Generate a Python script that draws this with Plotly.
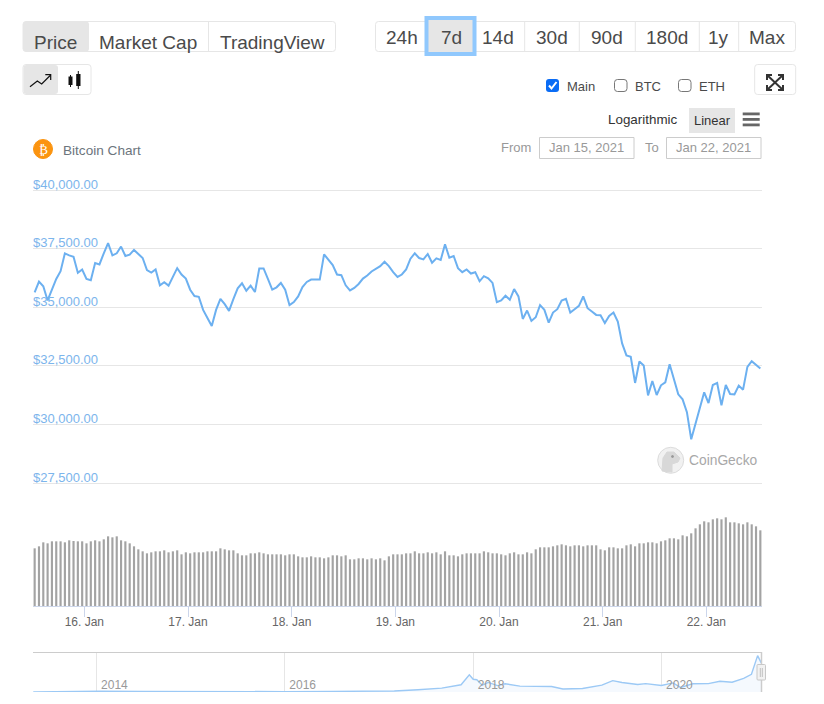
import pandas as pd
import plotly.graph_objects as go

W, H = 824, 704

# hourly price
prices = [
    35632, 36092, 35891, 35287, 35747, 36207, 36538, 37299, 37213, 37155,
    36466, 36609, 36207, 36150, 36882, 36825, 37299, 37730, 37213, 37299,
    37587, 37184, 37242, 37443, 37270, 37098, 36581, 36480, 36609, 35934,
    36063, 35920, 36293, 36667, 36394, 36221, 35747, 35474, 35445, 34885,
    34540, 34195, 34885, 35359, 35129, 34842, 35345, 35805, 36020, 35704,
    35920, 35647, 36652, 36652, 36207, 35747, 35848, 36035, 35747, 35086,
    35216, 35460, 35862, 36078, 36178, 36178, 36178, 37256, 37012, 36796,
    36394, 36365, 35934, 35718, 35819, 35992, 36221, 36351, 36523, 36638,
    36753, 36940, 36753, 36494, 36293, 36394, 36609, 37069, 37299, 37098,
    37040, 37270, 36897, 37083, 37012, 37687, 37112, 37184, 36667, 36494,
    36609, 36437, 36494, 36106, 36322, 36236, 36035, 35216, 35287, 35488,
    35316, 35776, 35460,
    34500, 34857, 34414, 34571, 35086, 34886, 34342, 34771, 34914, 35286,
    35358, 34771, 34914, 35057, 35458, 34957, 34814, 34671, 34657, 34328,
    34628, 34771, 34385, 33456, 32941, 32884, 31768, 32683, 32512, 31239,
    31854, 31253, 31668, 31797, 32569, 31954, 31282, 31068, 30524, 29366,
    30024, 30667, 31368, 30910, 31682, 31768, 30810, 31682, 31296, 31282,
    31654, 31482, 32455, 32698, 32555, 32383,
]

# bar heights, no scale is shown for them
volumes = [
    173, 179, 191, 188, 194, 194, 194, 191, 197, 195,
    194, 194, 188, 194, 197, 194, 200, 209, 206, 209,
    197, 194, 188, 179, 170, 164, 158, 161, 164, 164,
    167, 161, 164, 167, 155, 161, 158, 161, 161, 161,
    164, 164, 164, 173, 170, 167, 167, 158, 152, 152,
    158, 158, 161, 158, 155, 155, 155, 155, 152, 155,
    155, 149, 146, 146, 149, 146, 146, 143, 146, 152,
    152, 149, 152, 140, 140, 143, 143, 140, 143, 140,
    143, 137, 149, 155, 155,
    155, 158, 158, 164, 158, 158, 161, 158, 161, 155,
    164, 152, 152, 149, 155, 158, 158, 158, 158, 164,
    161, 158, 158, 155, 152, 158, 161, 155, 155,
    161, 158, 170, 176, 176, 176, 179, 182, 185, 182,
    179, 182, 182, 179, 182, 182, 182, 170, 167,
    176, 176, 173, 173, 182, 185, 179, 188, 188, 191,
    191, 188, 194, 197, 203, 203, 200, 212, 209, 218,
    233, 245, 254, 251, 260, 263, 260, 266, 251, 251,
    248, 245, 251, 245, 239, 227,
]

price_ticks = [27500, 30000, 32500, 35000, 37500, 40000]
price_labels = ["$27,500.00", "$30,000.00", "$32,500.00", "$35,000.00", "$37,500.00", "$40,000.00"]
day_ticks = ["2021-01-16", "2021-01-17", "2021-01-18", "2021-01-19", "2021-01-20", "2021-01-21", "2021-01-22"]
day_labels = ["16. Jan", "17. Jan", "18. Jan", "19. Jan", "20. Jan", "21. Jan", "22. Jan"]

nav_dates = [
    "2013-05-01", "2013-11-30", "2014-01-15", "2014-07-01", "2015-01-15", "2015-07-01",
    "2016-01-01", "2016-07-01", "2017-01-01", "2017-03-01", "2017-06-01", "2017-09-01",
    "2017-11-15", "2017-12-17", "2018-01-01", "2018-01-15", "2018-02-05", "2018-03-01",
    "2018-04-05", "2018-05-05", "2018-07-01", "2018-11-01", "2018-12-15", "2019-03-01",
    "2019-05-15", "2019-06-26", "2019-08-01", "2019-10-01", "2019-11-01", "2020-01-01",
    "2020-02-15", "2020-03-15", "2020-05-01", "2020-07-01", "2020-08-15", "2020-10-01",
    "2020-11-15", "2020-12-15", "2021-01-08", "2021-01-22",
]
nav_prices = [
    120, 1100, 800, 620, 250, 280,
    430, 650, 950, 1100, 2500, 4300,
    8000, 19000, 14000, 13500, 7500, 10500,
    7000, 9000, 6500, 6000, 3300, 3900,
    7500, 12500, 10500, 8200, 9200, 7200,
    10000, 5000, 9000, 9200, 11800, 10800,
    15000, 19500, 40000, 32000,
]
nav_ticks = ["2014-01-01", "2016-01-01", "2018-01-01", "2020-01-01"]
nav_labels = ["2014", "2016", "2018", "2020"]

hours = pd.date_range("2021-01-15 12:30", periods=len(prices), freq="h")

BLUE = "#6cb0f0"
BORDER = "#e6e6e6"
ACTIVE = "#e6e6e6"
DARK = "#4a4a4a"


def fx(x):
    return x / W


def fy(y):
    return 1 - y / H


shapes = []
annotations = []


def text(x, y, s, size=13, color=DARK, anchor="center", font="Liberation Sans"):
    if anchor == "left":
        x -= 1  # annotations keep a 1px pad
    annotations.append(dict(
        x=fx(x), y=fy(y), xref="paper", yref="paper", text=s, showarrow=False,
        xanchor=anchor, yanchor="middle", borderpad=0,
        font=dict(size=size, color=color, family=font),
    ))


def box(x0, y0, x1, y1, fill=None, line=None, width=1):
    shapes.append(dict(
        type="rect", xref="paper", yref="paper",
        x0=fx(x0), y0=fy(y0), x1=fx(x1), y1=fy(y1),
        fillcolor=fill or "rgba(0,0,0,0)",
        line=dict(color=line or "rgba(0,0,0,0)", width=width if line else 0),
    ))


def rbox(x0, y0, x1, y1, r=3, fill=None, line=None, width=1):
    p = (
        f"M {fx(x0 + r)} {fy(y0)} L {fx(x1 - r)} {fy(y0)} Q {fx(x1)} {fy(y0)} {fx(x1)} {fy(y0 + r)} "
        f"L {fx(x1)} {fy(y1 - r)} Q {fx(x1)} {fy(y1)} {fx(x1 - r)} {fy(y1)} "
        f"L {fx(x0 + r)} {fy(y1)} Q {fx(x0)} {fy(y1)} {fx(x0)} {fy(y1 - r)} "
        f"L {fx(x0)} {fy(y0 + r)} Q {fx(x0)} {fy(y0)} {fx(x0 + r)} {fy(y0)} Z"
    )
    shapes.append(dict(
        type="path", xref="paper", yref="paper", path=p,
        fillcolor=fill or "rgba(0,0,0,0)",
        line=dict(color=line or "rgba(0,0,0,0)", width=width if line else 0),
    ))


def polyline(pts, color, width=1.5, fill=None, close=False):
    p = "M " + " L ".join(f"{fx(x)} {fy(y)}" for x, y in pts)
    if close:
        p += " Z"
    shapes.append(dict(
        type="path", xref="paper", yref="paper", path=p,
        fillcolor=fill or "rgba(0,0,0,0)",
        line=dict(color=color, width=width),
    ))


def circle(cx, cy, r, fill, line=None):
    shapes.append(dict(
        type="circle", xref="paper", yref="paper",
        x0=fx(cx - r), y0=fy(cy - r), x1=fx(cx + r), y1=fy(cy + r),
        fillcolor=fill, line=dict(color=line or fill, width=1),
    ))


# tabs
rbox(23, 21.5, 335.5, 51.5, fill="white", line=BORDER)
rbox(23, 21.5, 89, 51.5, fill=ACTIVE)
polyline([(208.5, 21.5), (208.5, 51.5)], BORDER, 1)
text(55.5, 42, "Price", 19)
text(148, 42, "Market Cap", 19)
text(272, 42, "TradingView", 19)

# range buttons
rbox(375.5, 21.5, 795.5, 51.5, fill="white", line=BORDER)
for x in [524.7, 579.3, 635.3, 699.3, 738.7]:
    polyline([(x, 21.5), (x, 51.5)], BORDER, 1)
box(426.5, 18, 474.5, 54, fill=ACTIVE, line="#90c8fd", width=4)
for x, s in [(402, "24h"), (451, "7d"), (497.5, "14d"), (552, "30d"), (607, "90d"),
             (667, "180d"), (718.7, "1y"), (767, "Max")]:
    text(x, 37, s, 19)

# line / candle toggle
rbox(23, 64.5, 91, 94.5, fill="white", line=BORDER)
rbox(23.5, 65, 58, 94, fill=ACTIVE)
polyline([(30, 86.7), (37.3, 81), (41.7, 84), (50.7, 75)], "#111", 1.2)
polyline([(45.3, 74.7), (50.7, 74.7), (50.7, 80)], "#111", 1.2)
box(68.5, 76.5, 72.5, 85, fill="#111")
polyline([(70.5, 75), (70.5, 87)], "#111", 1)
box(76.2, 74, 80.5, 86, fill="#111")
polyline([(78.3, 71), (78.3, 89)], "#111", 1)

# checkboxes
rbox(546, 79, 559, 92, fill="#0a6cf5")
polyline([(549, 85.5), (551.5, 88.5), (556.5, 82)], "white", 2)
rbox(614.5, 79.5, 627, 91.5, line="#777")
rbox(678.5, 79.5, 691, 91.5, line="#777")
text(567, 86, "Main", 13, anchor="left")
text(634.5, 86, "BTC", 13, anchor="left")
text(698.5, 86, "ETH", 13, anchor="left")

# fullscreen button
rbox(754.7, 64.5, 795.7, 94.5, fill="white", line=BORDER)
polyline([(767, 75), (783, 90)], "#333", 2)
polyline([(783, 75), (767, 90)], "#333", 2)
polyline([(767, 80), (767, 75), (772, 75)], "#333", 2)
polyline([(778, 75), (783, 75), (783, 80)], "#333", 2)
polyline([(767, 85), (767, 90), (772, 90)], "#333", 2)
polyline([(778, 90), (783, 90), (783, 85)], "#333", 2)

# scale switch
text(608, 120, "Logarithmic", 13.4, "#333", anchor="left")
box(689, 108, 735, 133, fill=ACTIVE)
text(712, 120.5, "Linear", 13, "#333")
box(742.7, 112.5, 759.7, 115.3, fill="#666")
box(742.7, 118, 759.7, 120.8, fill="#666")
box(742.7, 123.5, 759.7, 126.3, fill="#666")

# date inputs
text(501.3, 147.5, "From", 13, "#999", anchor="left")
box(539.5, 137.5, 634, 158.5, line="#ccc")
text(586.7, 147.5, "Jan 15, 2021", 13, "#999")
text(645.3, 147.5, "To", 13, "#999", anchor="left")
box(666.5, 137.5, 761, 158.5, line="#ccc")
text(713.7, 147.5, "Jan 22, 2021", 13, "#999")

# chart title
circle(43, 149, 9.5, "#fb9410")
text(43, 149, "₿", 13, "white", font="DejaVu Sans")
text(63, 150.5, "Bitcoin Chart", 13.6, "#6c757d", anchor="left")

# watermark
circle(670.7, 460.3, 13, "#f1f1f1", "#dcdcdc")
polyline([(662, 471), (663, 458), (667, 452), (674, 452), (680, 458), (678, 462), (672, 464), (672, 472)],
         "#d8d8d8", 1, fill="#d8d8d8", close=True)
circle(672.5, 456.5, 1, "#999999")
text(689, 460, "CoinGecko", 13.8, "#a8a8a8", anchor="left")

# navigator handle and outline
polyline([(761.5, 652), (761.5, 692)], "#cccccc", 1.5)
rbox(757, 664.5, 765.5, 680, r=1, fill="#f2f2f2", line="#c8c8c8")
polyline([(760.3, 668), (760.3, 677)], "#c0c0c0", 1)
polyline([(762.3, 668), (762.3, 677)], "#c0c0c0", 1)
polyline([(33, 652.5), (762, 652.5)], "#cccccc", 1)

fig = go.Figure()

fig.add_trace(go.Scatter(
    x=hours, y=prices, mode="lines", xaxis="x", yaxis="y",
    line=dict(color=BLUE, width=2), hoverinfo="skip",
))
fig.add_trace(go.Bar(
    x=hours, y=volumes, xaxis="x", yaxis="y2", width=1800000,
    marker=dict(color="#a3a3a3", line=dict(width=0)), hoverinfo="skip",
))
fig.add_trace(go.Scatter(
    x=nav_dates, y=nav_prices, mode="lines", xaxis="x3", yaxis="y3",
    fill="tozeroy", fillcolor="#f5f9fe",
    line=dict(color="#9cc9f5", width=1.4), hoverinfo="skip",
))

fig.update_layout(
    width=W, height=H,
    margin=dict(l=0, r=0, t=0, b=0),
    paper_bgcolor="white", plot_bgcolor="rgba(0,0,0,0)",
    showlegend=False,
    font=dict(family="Liberation Sans"),
    shapes=shapes,
    annotations=annotations,
    xaxis=dict(
        domain=[fx(33), fx(762)], anchor="y2", automargin=False,
        range=["2021-01-15 12:07", "2021-01-22 12:53"],
        tickmode="array", tickvals=day_ticks, ticktext=day_labels,
        ticks="outside", ticklen=10, tickcolor="#ccd6eb", tickwidth=1,
        showline=True, linecolor="#ccd6eb", showgrid=False, zeroline=False,
        tickfont=dict(size=12, color="#666666"),
        ticklabelstandoff=-5,
    ),
    yaxis=dict(
        # plotly drops gridlines within 1px of the range ends, so pad by 1.5px
        domain=[fy(484.5), fy(188.5)], anchor="x", automargin=False,
        range=[27436, 40064],
        tickmode="array", tickvals=price_ticks, ticktext=price_labels,
        gridcolor="#e6e6e6", gridwidth=1, zeroline=False, showline=False,
        ticks="", ticklabelposition="inside", ticklabeloverflow="allow",
        ticklabelshift=-6, ticklabelstandoff=-3,
        tickfont=dict(size=13, color="#7cb5ec"),
    ),
    yaxis2=dict(
        domain=[fy(606), fy(506)], anchor="x", automargin=False,
        range=[0, 300], visible=False,
    ),
    xaxis3=dict(
        domain=[fx(33), fx(762)], anchor="y3", automargin=False,
        range=["2013-04-30", "2021-01-25"],
        tickmode="array", tickvals=nav_ticks, ticktext=nav_labels,
        ticks="", ticklabelposition="inside", ticklabeloverflow="allow",
        ticklabelshift=18, ticklabelstandoff=-2,
        showgrid=True, gridcolor="#e6e6e6", zeroline=False, showline=False,
        tickfont=dict(size=12, color="#999999"),
    ),
    yaxis3=dict(
        domain=[fy(692), fy(652)], anchor="x3", automargin=False,
        range=[0, 44000], showgrid=False, zeroline=False,
        showticklabels=False, ticks="",
    ),
)

fig.write_html(
    "out.html",
    config=dict(displayModeBar=False),
    post_script="document.body.style.margin='0';",
)
